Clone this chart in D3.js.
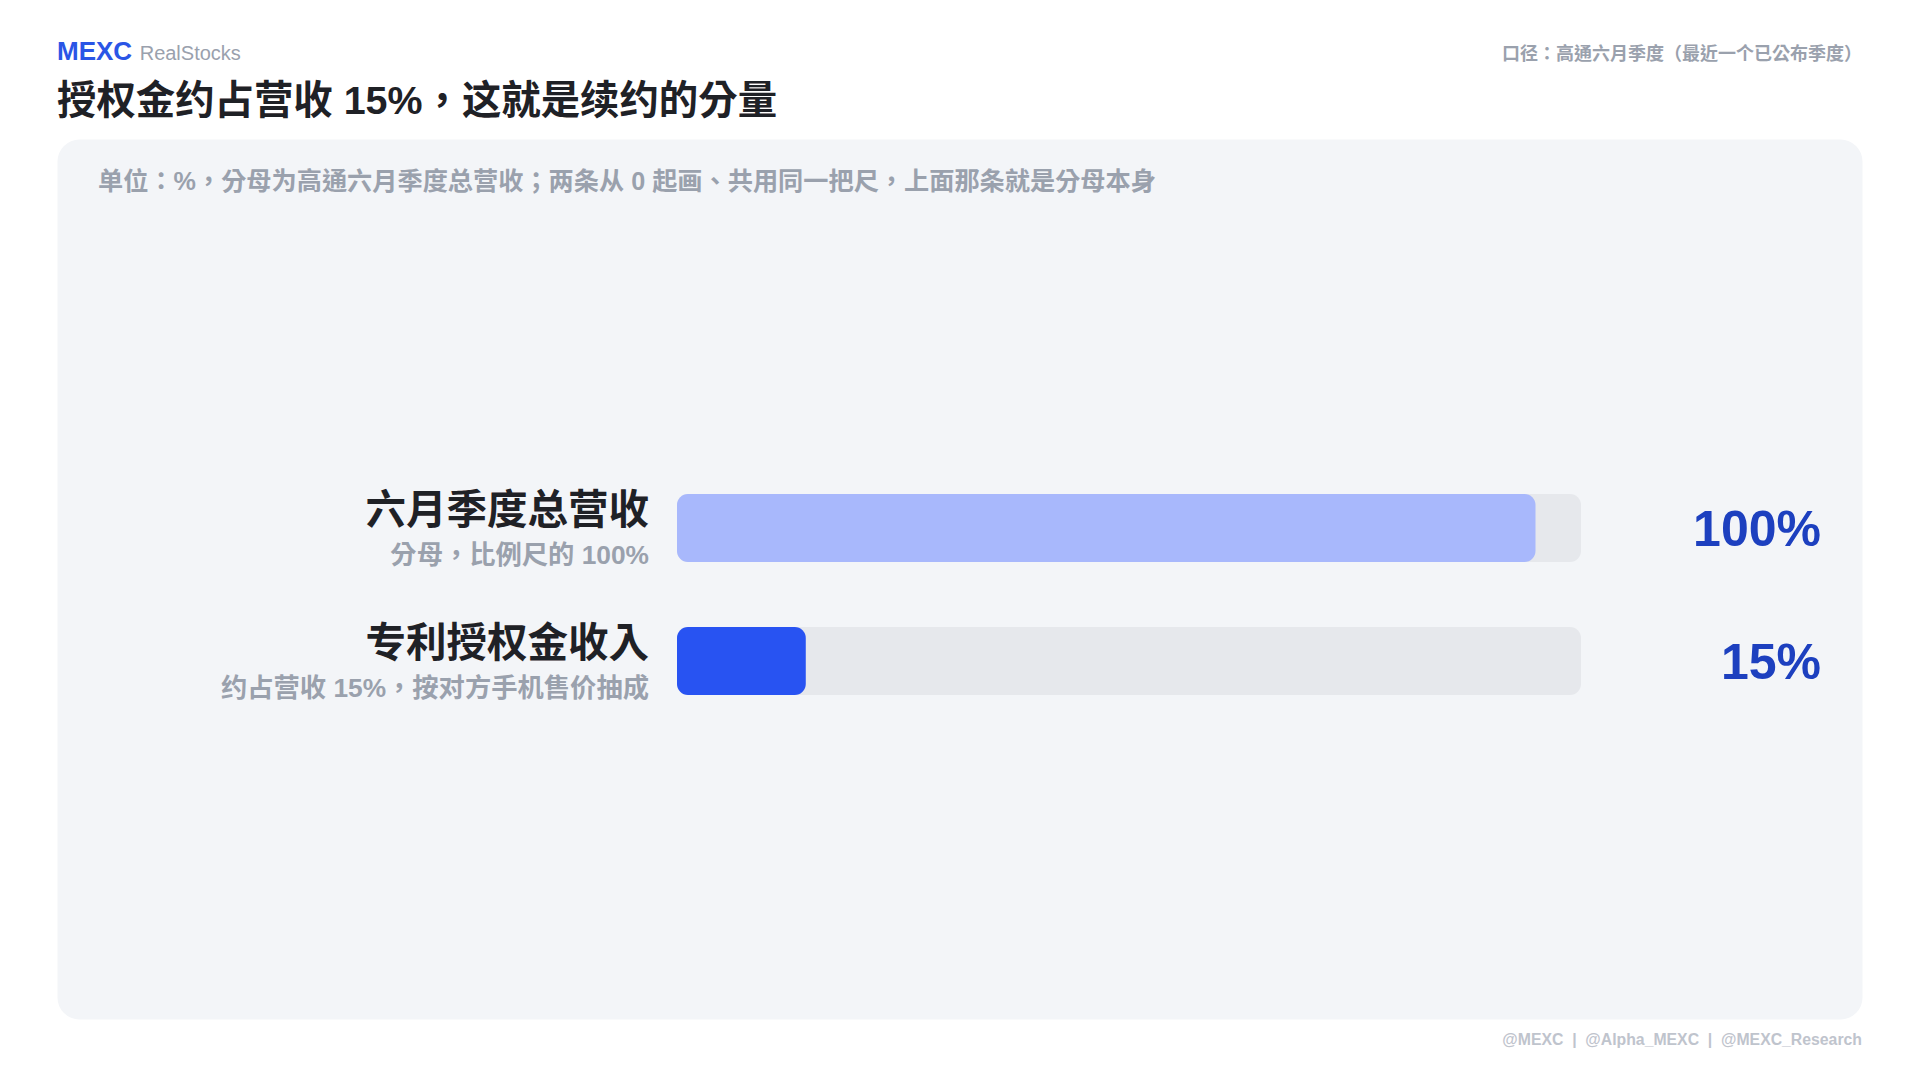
<!DOCTYPE html>
<html>
<head>
<meta charset="utf-8">
<script src="https://cdn.jsdelivr.net/npm/d3@7"></script>
<style>
  html, body { margin: 0; padding: 0; background: #ffffff; }
  svg { display: block; }
  text { font-family: "Liberation Sans", Arial, "Noto Sans CJK TC", sans-serif; }
</style>
</head>
<body>
<svg id="chart" width="1920" height="1080"></svg>
<script>
// ---- data ----
const categories = ["六月季度总营收", "专利授权金收入"];
const subLabels = ["分母，比例尺的 100%", "约占营收 15%，按对方手机售价抽成"];
const values = [100, 15];
const valueLabels = ["100%", "15%"];
const axisMax = 105.3;

const brand = "MEXC";
const brandSub = "RealStocks";
const title = "授权金约占营收 15%，这就是续约的分量";
const note = "口径：高通六月季度（最近一个已公布季度）";
const unitText = "单位：%，分母为高通六月季度总营收；两条从 0 起画、共用同一把尺，上面那条就是分母本身";
const footerItems = ["@MEXC", "@Alpha_MEXC", "@MEXC_Research"];
const barColors = ["#a8b8fc", "#2853f2"];

// ---- drawing ----
const svg = d3.select("#chart");
const W = 1920, H = 1080;

svg.append("rect").attr("x", 0).attr("y", 0).attr("width", W).attr("height", H).attr("fill", "#ffffff");

// header
const hdr = svg.append("text").attr("x", 57).attr("y", 60);
hdr.append("tspan").text(brand).attr("font-size", 26).attr("font-weight", 700).attr("fill", "#2a55e6");
hdr.append("tspan").text(" " + brandSub).attr("font-size", 20).attr("fill", "#9aa1ad").attr("dx", 2);

svg.append("text").attr("x", 57).attr("y", 114)
  .attr("font-size", 39.4).attr("font-weight", 700).attr("fill", "#1f2126")
  .text(title);

svg.append("text").attr("x", 1862).attr("y", 60).attr("text-anchor", "end")
  .attr("font-size", 18).attr("font-weight", 700).attr("fill", "#9aa1ad")
  .text(note);

// panel
svg.append("rect").attr("x", 57.5).attr("y", 139.5).attr("width", 1805).attr("height", 880)
  .attr("rx", 22).attr("fill", "#f3f5f8");

svg.append("text").attr("x", 98).attr("y", 190)
  .attr("font-size", 25.2).attr("font-weight", 700).attr("fill", "#9aa1ad")
  .text(unitText);

// scales
const x = d3.scaleLinear().domain([0, axisMax]).range([677, 1581]);
const y = d3.scalePoint().domain(categories).range([528, 661]);
const barH = 68;

const rows = svg.append("g").selectAll("g").data(categories).join("g")
  .attr("transform", d => `translate(0,${y(d)})`);

rows.append("rect")
  .attr("x", x(0)).attr("y", -barH / 2)
  .attr("width", x(axisMax) - x(0)).attr("height", barH)
  .attr("rx", 11).attr("fill", "#e6e8ec");

rows.append("rect")
  .attr("x", x(0)).attr("y", -barH / 2)
  .attr("width", (d, i) => x(values[i]) - x(0)).attr("height", barH)
  .attr("rx", 11).attr("fill", (d, i) => barColors[i]);

rows.append("text")
  .attr("x", 649).attr("y", -4.5).attr("text-anchor", "end")
  .attr("font-size", 40.5).attr("font-weight", 700).attr("fill", "#1f2126")
  .text(d => d);

rows.append("text")
  .attr("x", 649).attr("y", 36).attr("text-anchor", "end")
  .attr("font-size", 26.3).attr("font-weight", 700).attr("fill", "#9aa1ad")
  .text((d, i) => subLabels[i]);

rows.append("text")
  .attr("x", 1821).attr("y", 18).attr("text-anchor", "end")
  .attr("font-size", 50).attr("font-weight", 700).attr("fill", "#1d40bf")
  .text((d, i) => valueLabels[i]);

// footer
svg.append("text").attr("x", 1862).attr("y", 1045).attr("text-anchor", "end")
  .attr("font-size", 15.8).attr("font-weight", 700).attr("fill", "#bfc4cd")
  .attr("xml:space", "preserve")
  .text(footerItems.join("  |  "));
</script>
</body>
</html>
